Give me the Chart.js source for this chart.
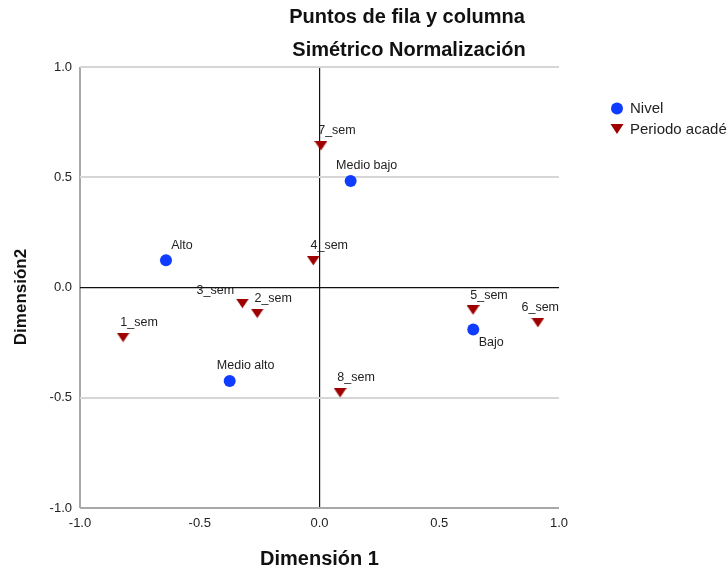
<!DOCTYPE html>
<html><head><meta charset="utf-8">
<script src="https://cdn.jsdelivr.net/npm/chart.js@4"></script>
<style>html,body{margin:0;padding:0;background:#fff;overflow:hidden}</style>
</head><body>
<canvas id="c" width="727" height="569" style="width:727px;height:569px;display:block"></canvas>
<script>
// ---- data ----
const nivelLabels = ['Alto', 'Medio bajo', 'Medio alto', 'Bajo'];
const nivelX = [-0.641, 0.130, -0.375, 0.642];
const nivelY = [0.124, 0.483, -0.424, -0.190];
const periodoLabels = ['1_sem', '2_sem', '3_sem', '4_sem', '5_sem', '6_sem', '7_sem', '8_sem'];
const periodoX = [-0.820, -0.260, -0.322, -0.026, 0.641, 0.912, 0.006, 0.086];
const periodoY = [-0.227, -0.118, -0.073, 0.121, -0.103, -0.160, 0.642, -0.478];
const tickValues = [-1.0, -0.5, 0.0, 0.5, 1.0];
const titleLines = ['Puntos de fila y columna', 'Simétrico Normalización'];
const xTitle = 'Dimensión 1';
const yTitle = 'Dimensión2';
const seriesNames = ['Nivel', 'Periodo académico'];
// label placement hints (relative to the marker)
const nivelPlace = ['above', 'above', 'above', 'below'];
const periodoPlace = ['above', 'above', 'left', 'above', 'above', 'above', 'above', 'above'];

const FONT = "'Liberation Sans', Arial, sans-serif";
const BLUE = '#0f3cff';
const RED = '#9e0000';

function pts(xs, ys) { return xs.map((x, i) => ({ x: x, y: ys[i] })); }

// downward triangle marker, centred on its bounding box
function makeTriangle(w, h, color) {
  const dpr = window.devicePixelRatio || 1;
  const cv = document.createElement('canvas');
  cv.width = Math.round(w * dpr); cv.height = Math.round(h * dpr);
  cv.style.width = w + 'px'; cv.style.height = h + 'px';
  const g = cv.getContext('2d');
  g.scale(dpr, dpr);
  g.fillStyle = color;
  g.beginPath();
  g.moveTo(0, 0); g.lineTo(w, 0); g.lineTo(w / 2, h); g.closePath();
  g.fill();
  const img = new Image(w, h);
  img.src = cv.toDataURL();
  img.width = w; img.height = h;
  return img;
}
const triImg = makeTriangle(13, 10.5, RED);

const labelPlugin = {
  id: 'pointLabels',
  afterDatasetsDraw(chart) {
    const ctx = chart.ctx;
    const area = chart.chartArea;
    ctx.save();
    ctx.font = '12.5px ' + FONT;
    ctx.fillStyle = '#222';
    ctx.textAlign = 'center';
    ctx.textBaseline = 'middle';
    chart.data.datasets.forEach((ds, di) => {
      const meta = chart.getDatasetMeta(di);
      meta.data.forEach((el, i) => {
        const txt = ds.pointLabels[i];
        const place = ds.labelPlace[i];
        const w = ctx.measureText(txt).width;
        let cx, cy;
        if (place === 'left') { cx = el.x - 27; cy = el.y - 13; }
        else if (place === 'below') { cx = el.x + 18; cy = el.y + 13; }
        else { cx = el.x + 16; cy = el.y - 15; }
        if (cx + w / 2 > area.right) cx = area.right - w / 2;
        ctx.fillText(txt, cx, cy);
      });
    });
    ctx.restore();
  }
};

const decorPlugin = {
  id: 'decor',
  afterDraw(chart) {
    const ctx = chart.ctx;
    const area = chart.chartArea;
    ctx.save();
    ctx.fillStyle = '#111';
    ctx.textAlign = 'center';
    ctx.textBaseline = 'alphabetic';
    ctx.font = 'bold 20px ' + FONT;
    ctx.fillText(titleLines[0], 407, 23);
    ctx.fillText(titleLines[1], 409, 56);
    // axis titles
    ctx.font = 'bold 20px ' + FONT;
    ctx.fillText(xTitle, (area.left + area.right) / 2, 565);
    ctx.save();
    ctx.translate(26, 297);
    ctx.rotate(-Math.PI / 2);
    ctx.font = 'bold 17px ' + FONT;
    ctx.fillText(yTitle, 0, 0);
    ctx.restore();
    // legend
    ctx.textAlign = 'left';
    ctx.textBaseline = 'middle';
    ctx.font = '15px ' + FONT;
    ctx.fillStyle = BLUE;
    ctx.beginPath();
    ctx.arc(617, 108.5, 6, 0, Math.PI * 2);
    ctx.fill();
    ctx.fillStyle = RED;
    ctx.beginPath();
    ctx.moveTo(610.5, 124);
    ctx.lineTo(623.5, 124);
    ctx.lineTo(617, 134);
    ctx.closePath();
    ctx.fill();
    ctx.fillStyle = '#222';
    ctx.fillText(seriesNames[0], 630, 109);
    ctx.fillText(seriesNames[1], 630, 129.5);
    ctx.restore();
  }
};

const fixedTicks = (scale) => { scale.ticks = tickValues.map(v => ({ value: v })); };

function build() {
  new Chart(document.getElementById('c'), {
    type: 'scatter',
    data: {
      datasets: [
        {
          label: seriesNames[0],
          data: pts(nivelX, nivelY),
          pointLabels: nivelLabels,
          labelPlace: nivelPlace,
          pointStyle: 'circle',
          pointRadius: 6,
          pointHoverRadius: 6,
          backgroundColor: BLUE,
          borderColor: BLUE,
          borderWidth: 0
        },
        {
          label: seriesNames[1],
          data: pts(periodoX, periodoY),
          pointLabels: periodoLabels,
          labelPlace: periodoPlace,
          pointStyle: triImg,
          pointRadius: 7,
          pointHoverRadius: 7,
          backgroundColor: RED,
          borderColor: RED,
          borderWidth: 0
        }
      ]
    },
    options: {
      responsive: false,
      animation: false,
      events: [],
      layout: { padding: { left: 0, top: 67, right: 168, bottom: 0 } },
      plugins: { legend: { display: false }, tooltip: { enabled: false }, title: { display: false } },
      scales: {
        x: {
          type: 'linear', min: -1, max: 1,
          afterBuildTicks: fixedTicks,
          afterFit: (s) => { s.height = 61; },
          border: { display: false },
          grid: {
            drawTicks: false,
            color: (c) => c.tick.value === 0 ? '#111' : (c.tick.value === -1 ? '#a8a8a8' : 'rgba(0,0,0,0)'),
            lineWidth: (c) => c.tick.value === -1 ? 2 : 1.2
          },
          ticks: {
            padding: 8,
            color: '#222',
            font: { family: FONT, size: 13 },
            callback: (v) => Number(v).toFixed(1)
          }
        },
        y: {
          type: 'linear', min: -1, max: 1,
          afterBuildTicks: fixedTicks,
          afterFit: (s) => { s.width = 80; },
          border: { display: false },
          grid: {
            drawTicks: false,
            color: (c) => c.tick.value === 0 ? '#111' : (c.tick.value === -1 ? '#a8a8a8' : '#d6d6d6'),
            lineWidth: (c) => c.tick.value === 0 ? 1.2 : 2
          },
          ticks: {
            padding: 8,
            color: '#222',
            font: { family: FONT, size: 13 },
            callback: (v) => Number(v).toFixed(1)
          }
        }
      }
    },
    plugins: [labelPlugin, decorPlugin]
  });
}
if (triImg.complete) build(); else triImg.onload = build;
</script>
</body></html>
